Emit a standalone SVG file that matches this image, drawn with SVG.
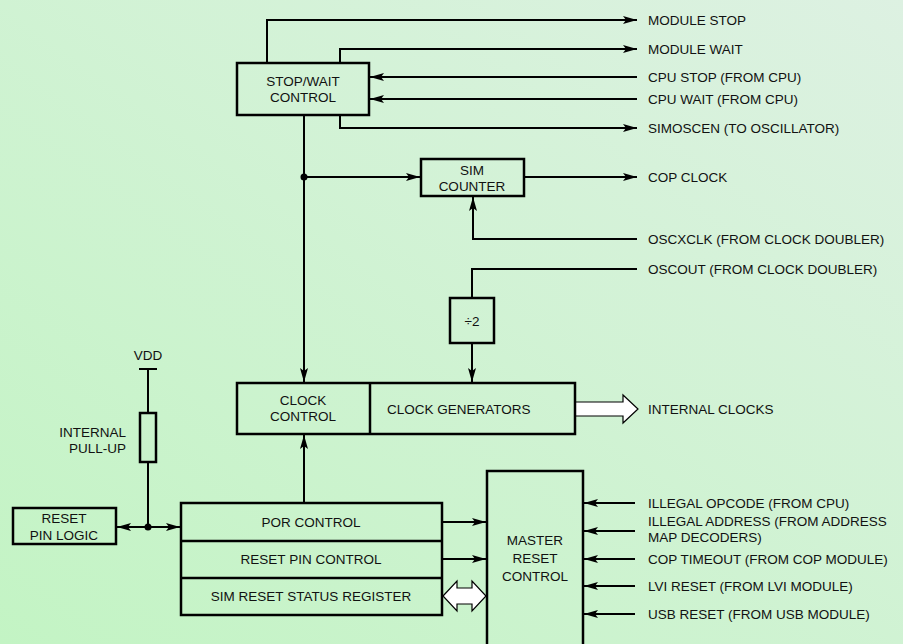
<svg xmlns="http://www.w3.org/2000/svg" width="903" height="644" viewBox="0 0 903 644">
<defs>
<linearGradient id="bg" x1="0" y1="1" x2="1" y2="0">
<stop offset="0" stop-color="#c3f4c4"/>
<stop offset="1" stop-color="#ddf1e2"/>
</linearGradient>
<marker id="ah" viewBox="0 0 14 8" refX="14" refY="4" markerWidth="14" markerHeight="8" markerUnits="userSpaceOnUse" orient="auto-start-reverse">
<path d="M0,0 L14,4 L0,8 L3,4 Z" fill="#000"/>
</marker>
<style>
.b{fill:none;stroke:#000;stroke-width:2.5}
.l{fill:none;stroke:#000;stroke-width:2}
.t{font-family:"Liberation Sans",Arial,sans-serif;font-size:13.5px;fill:#111}
.c{text-anchor:middle}
.r{text-anchor:end}
.h{fill:#fff;stroke:#000;stroke-width:1.2}
</style>
</defs>
<rect width="903" height="644" fill="url(#bg)"/>

<g id="connectors">
<polyline class="l" points="267,63 267,20 637,20" marker-end="url(#ah)"/>
<polyline class="l" points="340,63 340,49 637,49" marker-end="url(#ah)"/>
<line class="l" x1="637" y1="77" x2="370" y2="77" marker-end="url(#ah)"/>
<line class="l" x1="637" y1="99" x2="370" y2="99" marker-end="url(#ah)"/>
<polyline class="l" points="340,115 340,128 637,128" marker-end="url(#ah)"/>
<line class="l" x1="304" y1="115" x2="304" y2="382" marker-end="url(#ah)"/>
<circle cx="304" cy="177" r="3.5" fill="#000"/>
<line class="l" x1="304" y1="177" x2="420" y2="177" marker-end="url(#ah)"/>
<line class="l" x1="524" y1="177" x2="637" y2="177" marker-end="url(#ah)"/>
<polyline class="l" points="637,239 473,239 473,197" marker-end="url(#ah)"/>
<polyline class="l" points="637,269 472,269 472,298"/>
<line class="l" x1="472" y1="343" x2="472" y2="382" marker-end="url(#ah)"/>
<path class="h" d="M576,402 L623,402 L623,395 L638,409 L623,423 L623,416 L576,416"/>
<line class="l" x1="304" y1="503" x2="304" y2="435" marker-end="url(#ah)"/>
<line class="l" x1="148" y1="369" x2="148" y2="413"/>
<line class="l" x1="139" y1="369" x2="157" y2="369"/>
<line class="l" x1="148" y1="462" x2="148" y2="527"/>
<line class="l" x1="117" y1="527" x2="180" y2="527" marker-start="url(#ah)" marker-end="url(#ah)"/>
<circle cx="148" cy="527" r="3.5" fill="#000"/>
<line class="l" x1="442" y1="522" x2="486" y2="522" marker-end="url(#ah)"/>
<line class="l" x1="442" y1="559" x2="486" y2="559" marker-end="url(#ah)"/>
<path class="h" d="M443,596 L457,581 L457,588 L472,588 L472,581 L486,596 L472,611 L472,604 L457,604 L457,611 Z"/>
<line class="l" x1="635" y1="503" x2="584" y2="503" marker-end="url(#ah)"/>
<line class="l" x1="635" y1="531" x2="584" y2="531" marker-end="url(#ah)"/>
<line class="l" x1="635" y1="559" x2="584" y2="559" marker-end="url(#ah)"/>
<line class="l" x1="635" y1="586" x2="584" y2="586" marker-end="url(#ah)"/>
<line class="l" x1="635" y1="614" x2="584" y2="614" marker-end="url(#ah)"/>
</g>

<g id="stop-wait-control">
<rect class="b" x="237" y="63" width="132" height="52"/>
<text class="t c" x="303" y="86">STOP/WAIT</text>
<text class="t c" x="303" y="102">CONTROL</text>
</g>
<g id="sim-counter">
<rect class="b" x="421" y="159" width="103" height="37"/>
<text class="t c" x="472" y="175">SIM</text>
<text class="t c" x="472" y="191">COUNTER</text>
</g>
<g id="div2">
<rect class="b" x="450" y="298" width="44" height="45"/>
<text class="t c" x="472" y="326">÷2</text>
</g>
<g id="clock-block">
<rect class="b" x="237" y="383" width="338" height="51"/>
<line class="b" x1="370" y1="383" x2="370" y2="434"/>
<text class="t c" x="303" y="405">CLOCK</text>
<text class="t c" x="303" y="421">CONTROL</text>
<text class="t" x="387" y="414">CLOCK GENERATORS</text>
</g>
<g id="reset-pin-logic">
<rect class="b" x="13" y="508" width="103" height="36"/>
<text class="t c" x="64" y="523">RESET</text>
<text class="t c" x="64" y="540">PIN LOGIC</text>
</g>
<g id="pull-up">
<rect class="b" x="140" y="413" width="16" height="49"/>
<text class="t c" x="148" y="360">VDD</text>
<text class="t r" x="126" y="437">INTERNAL</text>
<text class="t r" x="126" y="453">PULL-UP</text>
</g>
<g id="reset-block">
<rect class="b" x="181" y="503" width="261" height="112"/>
<line class="b" x1="181" y1="541" x2="442" y2="541"/>
<line class="b" x1="181" y1="578" x2="442" y2="578"/>
<text class="t c" x="311" y="527">POR CONTROL</text>
<text class="t c" x="311" y="564">RESET PIN CONTROL</text>
<text class="t c" x="311" y="601">SIM RESET STATUS REGISTER</text>
</g>
<g id="master-reset-control">
<rect class="b" x="487" y="471" width="96" height="180"/>
<text class="t c" x="535" y="545">MASTER</text>
<text class="t c" x="535" y="563">RESET</text>
<text class="t c" x="535" y="581">CONTROL</text>
</g>
<g id="labels">
<text class="t" x="648" y="25">MODULE STOP</text>
<text class="t" x="648" y="54">MODULE WAIT</text>
<text class="t" x="648" y="82">CPU STOP (FROM CPU)</text>
<text class="t" x="648" y="104">CPU WAIT (FROM CPU)</text>
<text class="t" x="648" y="133">SIMOSCEN (TO OSCILLATOR)</text>
<text class="t" x="648" y="182">COP CLOCK</text>
<text class="t" x="648" y="244">OSCXCLK (FROM CLOCK DOUBLER)</text>
<text class="t" x="648" y="274">OSCOUT (FROM CLOCK DOUBLER)</text>
<text class="t" x="648" y="414">INTERNAL CLOCKS</text>
<text class="t" x="648" y="508">ILLEGAL OPCODE (FROM CPU)</text>
<text class="t" x="648" y="526">ILLEGAL ADDRESS (FROM ADDRESS</text>
<text class="t" x="648" y="542">MAP DECODERS)</text>
<text class="t" x="648" y="564">COP TIMEOUT (FROM COP MODULE)</text>
<text class="t" x="648" y="591">LVI RESET (FROM LVI MODULE)</text>
<text class="t" x="648" y="619">USB RESET (FROM USB MODULE)</text>
</g>
</svg>
